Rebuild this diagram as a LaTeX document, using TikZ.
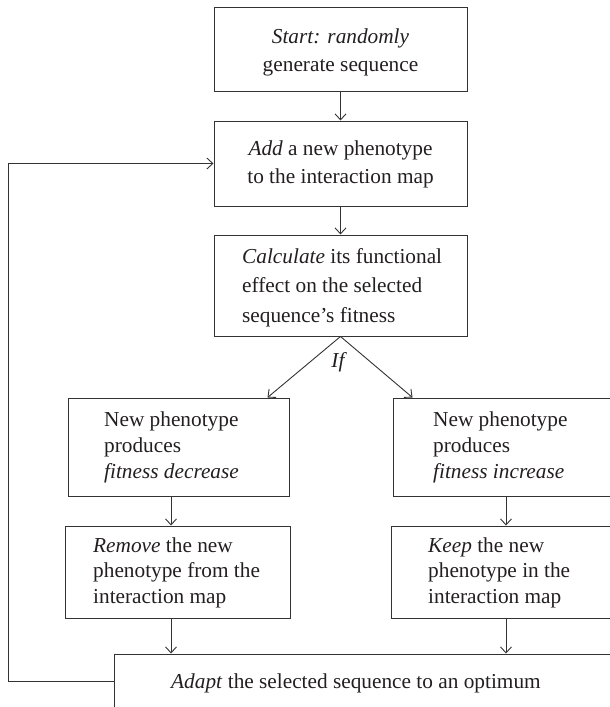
\documentclass[tikz,border=0pt]{standalone}
\usepackage{fontspec}
\setmainfont{Liberation Serif}
\usetikzlibrary{arrows.meta,calc}
\definecolor{ln}{HTML}{333333}
\definecolor{tx}{HTML}{231F20}
\begin{document}
\begin{tikzpicture}[x=1pt,y=-1pt,
  box/.style={draw=ln, line width=1pt, rectangle, inner sep=0pt},
  txt/.style={text=tx, font=\fontsize{21.3}{28}\selectfont, align=left, anchor=base west, inner sep=0pt},
  ctxt/.style={text=tx, font=\fontsize{21.3}{28}\selectfont, align=center, anchor=base, inner sep=0pt},
  arr/.style={draw=ln, line width=0.9pt, -{Straight Barb[length=6pt,width=11pt]}}]
\useasboundingbox (0,0) rectangle (610,707);
\clip (0,0) rectangle (610,707);
% boxes
\node[box, minimum width=253pt, minimum height=84pt] (b1) at (340.5,49) {};
\node[ctxt] (t1) at (340.5,71) {\textit{Start: randomly}\\generate sequence};
\node[box, minimum width=253pt, minimum height=85pt] (b2) at (340.5,163.5) {};
\node[ctxt] (t2) at (340.5,183) {\textit{Add} a new phenotype\\to the interaction map};
\node[box, minimum width=253pt, minimum height=101pt] (b3) at (340.5,285.5) {};
\node[txt, font=\fontsize{21.3}{29.5}\selectfont] (t3) at (242,322) {\textit{Calculate} its functional\\effect on the selected\\sequence's fitness};
\node[box, minimum width=221pt, minimum height=98pt] (lt) at (178.5,447) {};
\node[txt, font=\fontsize{21.3}{26}\selectfont] (tl) at (104,478) {New phenotype\\produces\\\textit{fitness decrease}};
\node[box, minimum width=221pt, minimum height=98pt] (rt) at (503.5,447) {};
\node[txt, font=\fontsize{21.3}{26}\selectfont] (tr) at (433,478) {New phenotype\\produces\\\textit{fitness increase}};
\node[box, minimum width=225pt, minimum height=92pt] (rm) at (177.5,572) {};
\node[txt, font=\fontsize{21.3}{25.5}\selectfont] (trm) at (93,603) {\textit{Remove} the new\\phenotype from the\\interaction map};
\node[box, minimum width=225pt, minimum height=92pt] (kp) at (503.5,572) {};
\node[txt, font=\fontsize{21.3}{25.5}\selectfont] (tkp) at (428,603) {\textit{Keep} the new\\phenotype in the\\interaction map};
\node[box, minimum width=526pt, minimum height=54pt] (bt) at (377,681) {};
\node[txt] (tbt) at (171,688) {\textit{Adapt} the selected sequence to an optimum};
% connectors
\draw[arr] (b1.south) -- (b2.north);
\draw[arr] (b2.south) -- (b3.north);
\draw[arr] (b3.south) -- ($(lt.north east)+(-22,0)$);
\draw[arr] (b3.south) -- ($(rt.north west)+(20,0)$);
\node[text=tx, font=\fontsize{21.3}{26}\selectfont\itshape, anchor=base, inner sep=0pt] (if) at (338,367) {If};
\coordinate (lx) at (171,0);
\coordinate (rx) at (506,0);
\coordinate (lp) at (8,0);
\draw[arr] (lt.south -| lx) -- (rm.north -| lx);
\draw[arr] (rm.south -| lx) -- (bt.north -| lx);
\draw[arr] (rt.south -| rx) -- (kp.north -| rx);
\draw[arr] (kp.south -| rx) -- (bt.north -| rx);
\draw[arr] (bt.west) -- (bt.west -| lp) |- (b2.west);
\end{tikzpicture}
\end{document}
